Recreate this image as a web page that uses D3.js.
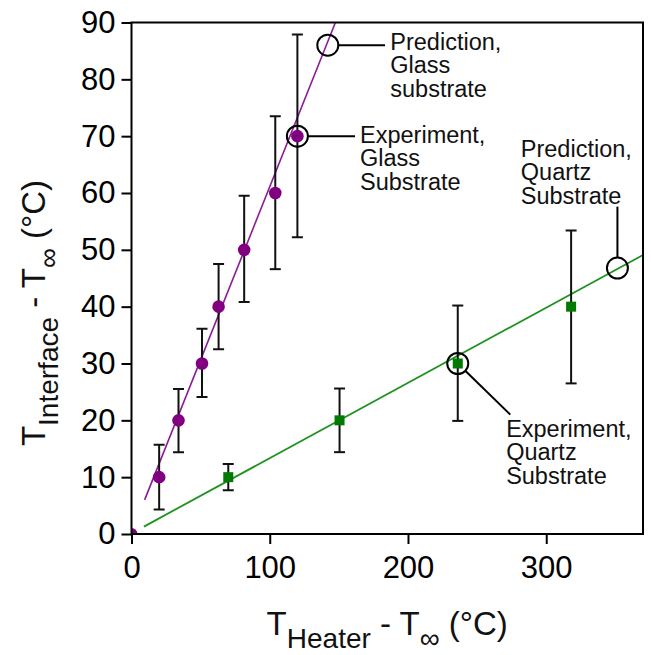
<!DOCTYPE html>
<html>
<head>
<meta charset="utf-8">
<script src="https://cdn.jsdelivr.net/npm/d3@7"></script>
<style>
  html, body { margin: 0; padding: 0; background: #fff; }
  svg { display: block; font-family: "Liberation Sans", Arial, sans-serif; }
</style>
</head>
<body>
<svg id="chart" width="651" height="655"></svg>
<script>
// ---------------- Data ----------------
const xTicks = [0, 100, 200, 300];
const yTicks = [0, 10, 20, 30, 40, 50, 60, 70, 80, 90];

// Glass substrate (purple circles)
const glassX     = [20, 34, 51, 63, 81.5, 104, 120];
const glassY     = [10, 20, 30, 40, 50, 60, 70];
const glassErrHi = [15.7, 25.5, 36.1, 47.5, 59.5, 73.5, 87.9];
const glassErrLo = [4.3, 14.4, 24.1, 32.5, 40.8, 46.6, 52.2];
const originX = [0];
const originY = [0];

// Quartz substrate (green squares)
const quartzX     = [70, 150.5, 236, 318];
const quartzY     = [10, 20, 30, 40];
const quartzErrHi = [12.3, 25.6, 40.2, 53.4];
const quartzErrLo = [7.7, 14.4, 19.9, 26.5];

// Fitted lines
const glassFitX  = [9.5, 147.5];
const glassFitY  = [6.0, 90];
const quartzFitX = [9.0, 370];
const quartzFitY = [1.3, 49.1];

// Annotations: circled point, connector end, text anchor (data units), lines of text
const annotLabels = [
  ["Prediction,", "Glass", "substrate"],
  ["Experiment,", "Glass", "Substrate"],
  ["Prediction,", "Quartz", "Substrate"],
  ["Experiment,", "Quartz", "Substrate"]
];
const annotPointX = [142, 120, 351.5, 236];
const annotPointY = [86, 70, 46.8, 30];
const annotEndX   = [183.4, 161.7, 351.5, 274];
const annotEndY   = [86, 70, 57.6, 21];
const annotTextX  = [187.2, 165.3, 281.6, 271];
const annotTextY  = [85.2, 68.8, 66.4, 17.1];

// ---------------- Layout ----------------
const svg = d3.select("#chart");
const pL = 131.5, pR = 643, pT = 22.5, pB = 534;
const x = d3.scaleLinear().domain([0, 370]).range([pL, pR]);
const y = d3.scaleLinear().domain([0, 90]).range([pB, pT]);

const purple = "#800080", purpleLine = "#8b1a96";
const green = "#007a00", greenLine = "#1f921f";

svg.append("defs").append("clipPath").attr("id", "clip")
  .append("rect").attr("x", pL).attr("y", pT)
  .attr("width", pR - pL).attr("height", pB - pT);

// Axes
const xAxis = svg.append("g").attr("transform", `translate(0,${pB})`)
  .call(d3.axisBottom(x).tickValues(xTicks).tickSize(10).tickSizeOuter(0).tickPadding(12));
const yAxis = svg.append("g").attr("transform", `translate(${pL},0)`)
  .call(d3.axisLeft(y).tickValues(yTicks).tickSize(10).tickSizeOuter(0).tickPadding(6));
[xAxis, yAxis].forEach(g => {
  g.select(".domain").remove();
  g.selectAll("line").attr("stroke", "#000").attr("stroke-width", 2);
  g.selectAll("text").attr("fill", "#000")
    .style("font-family", '"Liberation Sans", Arial, sans-serif')
    .style("font-size", "31px");
});
xAxis.selectAll("text").attr("dy", "0.71em");

const plot = svg.append("g").attr("clip-path", "url(#clip)");

// Origin point (partly hidden)
plot.selectAll("circle.origin").data(originX).join("circle")
  .attr("cx", (d, i) => x(d)).attr("cy", (d, i) => y(originY[i]))
  .attr("r", 6).attr("fill", purple);

// Fit lines
const line = d3.line().x(d => x(d[0])).y(d => y(d[1]));
plot.append("path").datum(glassFitX.map((v, i) => [v, glassFitY[i]]))
  .attr("d", line).attr("stroke", purpleLine).attr("stroke-width", 1.6).attr("fill", "none");
plot.append("path").datum(quartzFitX.map((v, i) => [v, quartzFitY[i]]))
  .attr("d", line).attr("stroke", greenLine).attr("stroke-width", 1.8).attr("fill", "none");

// Error bars
function errorBars(xs, his, los) {
  const g = plot.append("g").attr("stroke", "#111").attr("stroke-width", 2);
  xs.forEach((xv, i) => {
    const cx = x(xv);
    g.append("line").attr("x1", cx).attr("x2", cx).attr("y1", y(his[i])).attr("y2", y(los[i]));
    g.append("line").attr("x1", cx - 5.5).attr("x2", cx + 5.5).attr("y1", y(his[i])).attr("y2", y(his[i]));
    g.append("line").attr("x1", cx - 5.5).attr("x2", cx + 5.5).attr("y1", y(los[i])).attr("y2", y(los[i]));
  });
}
errorBars(glassX, glassErrHi, glassErrLo);
errorBars(quartzX, quartzErrHi, quartzErrLo);

// Markers
plot.selectAll("circle.glass").data(glassX).join("circle")
  .attr("cx", d => x(d)).attr("cy", (d, i) => y(glassY[i]))
  .attr("r", 6.3).attr("fill", purple);
plot.selectAll("rect.quartz").data(quartzX).join("rect")
  .attr("x", d => x(d) - 5).attr("y", (d, i) => y(quartzY[i]) - 5)
  .attr("width", 10).attr("height", 10).attr("fill", green);

// Annotations
const R = 10.5;
const ag = svg.append("g");
annotLabels.forEach((lines, i) => {
  const px = x(annotPointX[i]), py = y(annotPointY[i]);
  const ex = x(annotEndX[i]), ey = y(annotEndY[i]);
  const dx = ex - px, dy = ey - py, len = Math.hypot(dx, dy);
  ag.append("circle").attr("cx", px).attr("cy", py).attr("r", R)
    .attr("fill", "none").attr("stroke", "#000").attr("stroke-width", 2);
  ag.append("line")
    .attr("x1", px + dx / len * R).attr("y1", py + dy / len * R)
    .attr("x2", ex).attr("y2", ey)
    .attr("stroke", "#000").attr("stroke-width", 2);
  const t = ag.append("text").attr("x", x(annotTextX[i])).attr("y", y(annotTextY[i]))
    .attr("fill", "#111").style("font-size", "23.5px");
  lines.forEach((s, j) => {
    t.append("tspan").attr("x", x(annotTextX[i])).attr("dy", j === 0 ? 0 : 23.5).text(s);
  });
});

// Frame
svg.append("rect").attr("x", pL).attr("y", pT)
  .attr("width", pR - pL).attr("height", pB - pT)
  .attr("fill", "none").attr("stroke", "#000").attr("stroke-width", 2);

// Axis titles
const xt = svg.append("text").attr("x", (pL + pR) / 2).attr("y", 635)
  .attr("text-anchor", "middle").attr("fill", "#111").style("font-size", "33px");
xt.append("tspan").text("T");
xt.append("tspan").attr("dy", 13).style("font-size", "28px").text("Heater");
xt.append("tspan").attr("dy", -13).text(" - T");
xt.append("tspan").attr("dy", 13).style("font-size", "28px").text("∞");
xt.append("tspan").attr("dy", -13).text(" (°C)");

const yt = svg.append("text").attr("transform", "translate(45,313) rotate(-90)")
  .attr("text-anchor", "middle").attr("fill", "#111").style("font-size", "33px");
yt.append("tspan").text("T");
yt.append("tspan").attr("dy", 13).style("font-size", "28px").text("Interface");
yt.append("tspan").attr("dy", -13).text(" - T");
yt.append("tspan").attr("dy", 13).style("font-size", "28px").text("∞");
yt.append("tspan").attr("dy", -13).text(" (°C)");
</script>
</body>
</html>
